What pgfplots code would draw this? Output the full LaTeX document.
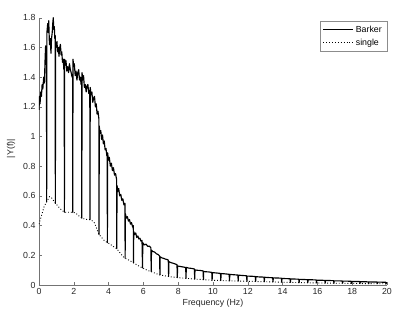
\documentclass[border=0pt]{standalone}
\usepackage{pgfplots}
\pgfplotsset{compat=1.18}
\usepackage{fontspec}
\setmainfont{Liberation Sans}
\begin{document}
\begin{tikzpicture}[x=1pt,y=1pt]
\useasboundingbox (-39,-33) rectangle (366,285);
\begin{axis}[
  at={(0,0)}, anchor=south west,
  width=348pt, height=267.3pt, scale only axis,
  xmin=0, xmax=20, ymin=0, ymax=1.8,
  xtick={0,2,...,20}, ytick={0,0.2,...,1.8},
  axis lines*=left,
  axis line style={black!55},
  tick align=inside, major tick length=3pt,
  tick style={black!55},
  /pgf/number format/assume math mode=true,
  tick label style={font=\fontsize{8.8}{10}\selectfont, text=black!85},
  label style={font=\fontsize{8.8}{10}\selectfont, text=black!85},
  xlabel={Frequency (Hz)},
  ylabel={|Y(f)|},
  xlabel style={yshift=3pt},
  ylabel style={at={(axis description cs:-0.08,0.51)}, anchor=center},
  legend style={at={(1,1)}, anchor=north east, yshift=-3pt,
    font=\fontsize{8.8}{10}\selectfont, draw=black!45, inner xsep=3pt, inner ysep=3pt,
    row sep=1pt},
  legend cell align=left,
  legend image code/.code={\draw[#1] (0pt,0pt) -- (30pt,0pt);},
]
\addplot[black, line width=1.15pt, line join=round] coordinates {
(0,1.18) (0.03,1.27) (0.06,1.22) (0.1,1.30) (0.14,1.27) (0.18,1.35) (0.22,1.32) (0.27,1.40) (0.31,1.36) (0.35,1.52) (0.38,1.61) (0.41,1.55) (0.43,1.58)
(0.44,0.56)
(0.455,1.70) (0.5,1.76) (0.53,1.70) (0.56,1.78) (0.6,1.62) (0.64,1.66) (0.69,1.56) (0.72,1.66) (0.76,1.70) (0.79,1.76) (0.82,1.80) (0.85,1.72) (0.88,1.74) (0.91,1.66) (0.93,1.68)
(0.94,0.55)
(0.955,1.63) (0.99,1.60) (1.03,1.64) (1.07,1.57) (1.11,1.60) (1.15,1.54) (1.19,1.60) (1.23,1.62) (1.27,1.55) (1.31,1.57) (1.35,1.50) (1.39,1.52) (1.43,1.45) (1.45,1.47)
(1.46,0.49)
(1.475,1.52) (1.51,1.48) (1.55,1.51) (1.6,1.44) (1.65,1.47) (1.7,1.43) (1.75,1.49) (1.8,1.45) (1.85,1.43) (1.9,1.40) (1.93,1.42)
(1.94,0.49)
(1.955,1.52) (1.99,1.47) (2.03,1.49) (2.08,1.41) (2.13,1.44) (2.18,1.38) (2.23,1.43) (2.28,1.45) (2.33,1.38) (2.38,1.40) (2.42,1.35) (2.45,1.37)
(2.46,0.45)
(2.475,1.43) (2.51,1.38) (2.56,1.41) (2.61,1.33) (2.66,1.35) (2.71,1.30) (2.76,1.34) (2.81,1.35) (2.86,1.29) (2.9,1.31) (2.92,1.28)
(2.93,0.44)
(2.945,1.33) (2.99,1.28) (3.04,1.30) (3.09,1.23) (3.14,1.26) (3.19,1.27) (3.24,1.20) (3.29,1.22) (3.34,1.15) (3.39,1.17) (3.44,1.12)
(3.45,0.34)
(3.465,1.07) (3.5,1.02) (3.55,1.04) (3.6,0.98) (3.65,1.01) (3.7,0.95) (3.75,0.97) (3.8,0.91) (3.85,0.92) (3.9,0.87) (3.92,0.88)
(3.93,0.285)
(3.945,0.89) (3.99,0.84) (4.04,0.86) (4.1,0.80) (4.16,0.82) (4.22,0.77) (4.28,0.79) (4.34,0.74) (4.4,0.75) (4.46,0.71)
(4.47,0.245)
(4.485,0.67) (4.53,0.63) (4.58,0.65) (4.64,0.60) (4.7,0.61) (4.76,0.57) (4.82,0.58) (4.88,0.54) (4.94,0.55)
(4.95,0.18)
(4.965,0.48) (5.02,0.45) (5.08,0.46) (5.14,0.43) (5.2,0.44) (5.26,0.41) (5.32,0.42) (5.38,0.39) (5.42,0.40)
(5.43,0.15)
(5.445,0.36) (5.5,0.34) (5.56,0.35) (5.62,0.32) (5.68,0.33) (5.74,0.31) (5.8,0.315) (5.86,0.295) (5.92,0.30)
(5.95,0.115)
(5.965,0.285) (6.05,0.27) (6.15,0.275) (6.25,0.26) (6.35,0.262) (6.43,0.25)
(6.45,0.09)
(6.465,0.235) (6.55,0.225) (6.65,0.222) (6.75,0.21) (6.85,0.205) (6.93,0.195)
(6.95,0.068)
(6.965,0.19) (7.05,0.183) (7.15,0.18) (7.25,0.175) (7.35,0.172) (7.43,0.168)
(7.45,0.057)
(7.465,0.157) (7.6,0.15) (7.75,0.145) (7.93,0.137)
(7.95,0.05)
(7.965,0.128) (8.1,0.125) (8.25,0.122) (8.43,0.118)
(8.45,0.045)
(8.465,0.118) (8.6,0.114) (8.75,0.112) (8.93,0.108)
(8.95,0.04)
(8.965,0.102) (9.1,0.099) (9.25,0.098) (9.43,0.095)
(9.45,0.036)
(9.465,0.091) (9.6,0.089) (9.75,0.088) (9.93,0.085)
(9.95,0.032)
(9.965,0.083) (10.2,0.081) (10.43,0.078)
(10.45,0.030)
(10.465,0.077) (10.7,0.075) (10.93,0.072)
(10.95,0.028)
(10.965,0.071) (11.2,0.069) (11.43,0.067)
(11.45,0.027)
(11.465,0.066) (11.7,0.064) (11.93,0.062)
(11.95,0.025)
(11.965,0.06) (12.2,0.059) (12.43,0.057)
(12.45,0.024)
(12.465,0.056) (12.7,0.054) (12.93,0.053)
(12.95,0.022)
(12.965,0.052) (13.2,0.05) (13.43,0.049)
(13.45,0.021)
(13.465,0.048) (13.7,0.047) (13.93,0.046)
(13.95,0.019)
(13.965,0.044) (14.2,0.043) (14.43,0.042)
(14.45,0.018)
(14.465,0.041) (14.7,0.040) (14.93,0.039)
(14.95,0.016)
(14.965,0.038) (15.2,0.037) (15.43,0.036)
(15.45,0.015)
(15.465,0.036) (15.7,0.035) (15.93,0.034)
(15.95,0.014)
(15.965,0.032) (16.2,0.032) (16.43,0.031)
(16.45,0.013)
(16.465,0.030) (16.7,0.030) (16.93,0.029)
(16.95,0.012)
(16.965,0.028) (17.2,0.028) (17.43,0.027)
(17.45,0.012)
(17.465,0.026) (17.7,0.026) (17.93,0.025)
(17.95,0.011)
(17.965,0.024) (18.2,0.024) (18.43,0.023)
(18.45,0.010)
(18.465,0.022) (18.7,0.022) (18.93,0.021)
(18.95,0.009)
(18.965,0.021) (19.2,0.020) (19.43,0.020)
(19.45,0.009)
(19.465,0.019) (19.7,0.019) (19.93,0.018)
(19.95,0.008)
(19.965,0.016) (20,0.016)
};
\addlegendentry{Barker}
\addplot[black, line width=0.9pt, dotted] coordinates {
(0,0.41) (0.1,0.45) (0.2,0.49) (0.3,0.53) (0.44,0.56) (0.6,0.595) (0.7,0.59) (0.8,0.575) (0.94,0.55) (1.1,0.53) (1.2,0.515) (1.3,0.505) (1.46,0.49) (1.6,0.49) (1.8,0.49) (1.94,0.49) (2.1,0.485) (2.2,0.475) (2.35,0.46) (2.46,0.45) (2.6,0.445) (2.8,0.44) (2.93,0.44) (3.1,0.43) (3.2,0.415) (3.3,0.385) (3.45,0.34) (3.6,0.32) (3.75,0.30) (3.93,0.285) (4.1,0.275) (4.2,0.265) (4.33,0.255) (4.47,0.245) (4.6,0.225) (4.7,0.21) (4.85,0.19) (4.95,0.18) (5.2,0.165) (5.43,0.15) (5.7,0.13) (5.95,0.115) (6.2,0.1) (6.45,0.09) (6.7,0.078) (6.95,0.068) (7.45,0.057) (7.95,0.05) (8.45,0.045) (8.95,0.04) (9.45,0.036) (9.95,0.032) (10.95,0.028) (11.95,0.025) (12.95,0.022) (13.95,0.019) (14.95,0.016) (15.95,0.014) (16.95,0.012) (17.95,0.011) (18.95,0.009) (19.95,0.008) (20,0.008)
};
\addlegendentry{single}
\end{axis}
\end{tikzpicture}
\end{document}
